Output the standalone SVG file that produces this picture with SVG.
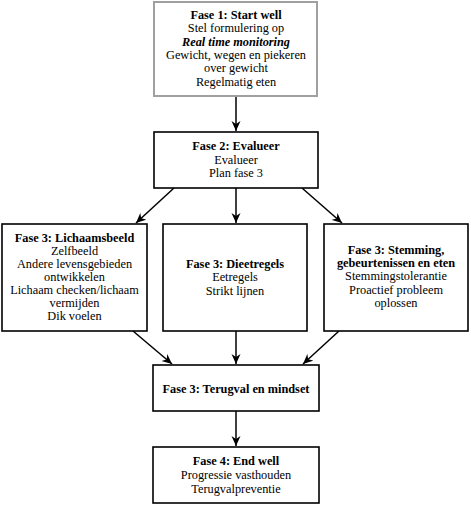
<svg xmlns="http://www.w3.org/2000/svg" width="471" height="506" viewBox="0 0 471 506">
<style>
.box{fill:#fff;stroke:#000;stroke-width:1.6}
.gray{stroke:#a0a0a0;stroke-width:2}
text{font-family:"Liberation Serif","DejaVu Serif",serif;font-size:12.3px;fill:#000;text-anchor:middle}
.b{font-weight:bold}
.i{font-weight:bold;font-style:italic}
.c{stroke:#000;stroke-width:1.5;fill:none;marker-end:url(#ah)}
</style>
<defs>
<marker id="ah" viewBox="0 0 10 10" refX="10" refY="5" markerWidth="10" markerHeight="10" markerUnits="userSpaceOnUse" orient="auto">
<path d="M0,0.5 L10,5 L0,9.5 L3,5 Z" fill="#000"/>
</marker>
</defs>
<g id="connectors">
<line class="c" x1="236" y1="97" x2="236" y2="131"/>
<line class="c" x1="174" y1="188" x2="136" y2="223"/>
<line class="c" x1="236" y1="188" x2="236" y2="223"/>
<line class="c" x1="302" y1="188" x2="342" y2="223"/>
<line class="c" x1="133" y1="331" x2="172" y2="364"/>
<line class="c" x1="236" y1="331" x2="236" y2="364"/>
<line class="c" x1="339" y1="331" x2="303" y2="364"/>
<line class="c" x1="236" y1="411" x2="236" y2="446"/>
</g>
<g id="fase1">
<rect class="box gray" x="154" y="2" width="163" height="94"/>
<text class="b" x="236" y="19">Fase 1: Start well</text>
<text x="236" y="32">Stel formulering op</text>
<text class="i" x="236" y="45.5">Real time monitoring</text>
<text x="236" y="58.5">Gewicht, wegen en piekeren</text>
<text x="236" y="72">over gewicht</text>
<text x="236" y="85.5">Regelmatig eten</text>
</g>
<g id="fase2">
<rect class="box" x="154" y="132" width="164" height="56"/>
<text class="b" x="236" y="150">Fase 2: Evalueer</text>
<text x="236" y="163.5">Evalueer</text>
<text x="236" y="177">Plan fase 3</text>
</g>
<g id="lichaamsbeeld">
<rect class="box" x="2" y="224" width="145" height="107"/>
<text class="b" x="74.5" y="242">Fase 3: Lichaamsbeeld</text>
<text x="74.5" y="255">Zelfbeeld</text>
<text x="74.5" y="268">Andere levensgebieden</text>
<text x="74.5" y="281">ontwikkelen</text>
<text x="74.5" y="294">Lichaam checken/lichaam</text>
<text x="74.5" y="307">vermijden</text>
<text x="74.5" y="320">Dik voelen</text>
</g>
<g id="dieetregels">
<rect class="box" x="163" y="224" width="144" height="107"/>
<text class="b" x="235" y="268">Fase 3: Dieetregels</text>
<text x="235" y="281">Eetregels</text>
<text x="235" y="295">Strikt lijnen</text>
</g>
<g id="stemming">
<rect class="box" x="324" y="224" width="144" height="107"/>
<text class="b" x="396" y="254">Fase 3: Stemming,</text>
<text class="b" x="396" y="267">gebeurtenissen en eten</text>
<text x="396" y="280">Stemmingstolerantie</text>
<text x="396" y="294">Proactief probleem</text>
<text x="396" y="307">oplossen</text>
</g>
<g id="terugval">
<rect class="box" x="153" y="365" width="166" height="46"/>
<text class="b" x="236" y="393">Fase 3: Terugval en mindset</text>
</g>
<g id="fase4">
<rect class="box" x="153" y="447" width="166" height="56"/>
<text class="b" x="236" y="465">Fase 4: End well</text>
<text x="236" y="479">Progressie vasthouden</text>
<text x="236" y="493">Terugvalpreventie</text>
</g>
</svg>
